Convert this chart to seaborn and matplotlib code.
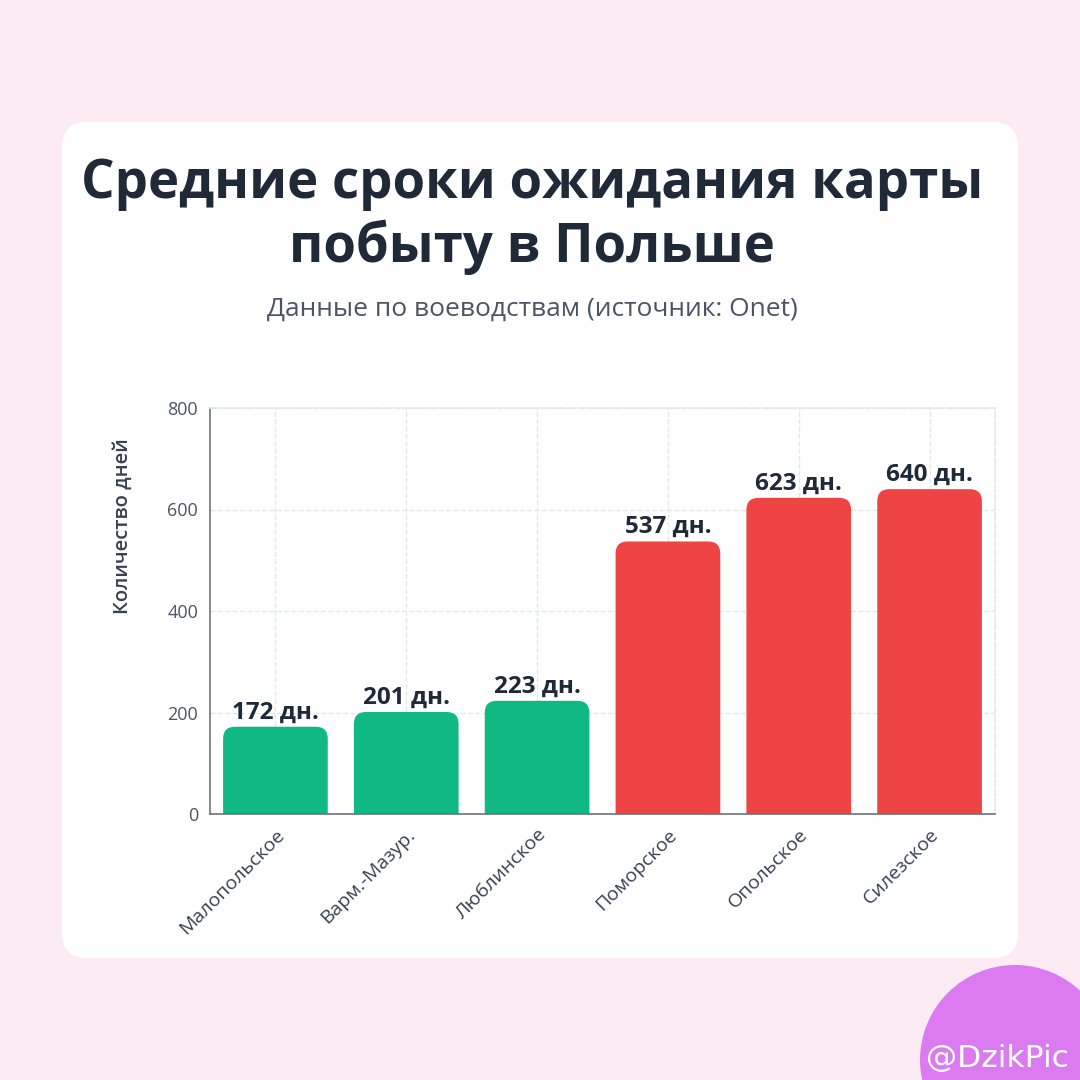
import matplotlib
matplotlib.use('Agg')
import matplotlib.pyplot as plt
import seaborn as sns
import pandas as pd
from matplotlib.patches import FancyBboxPatch, Circle

# Data
regions = ['Малопольское', 'Варм.-Мазур.', 'Люблинское', 'Поморское', 'Опольское', 'Силезское']
days = [172, 201, 223, 537, 623, 640]
bar_colors = ['#10b981', '#10b981', '#10b981', '#ef4444', '#ef4444', '#ef4444']

df = pd.DataFrame({'region': regions, 'days': days})

sns.set_theme(style='white')
plt.rcParams['font.family'] = ['Open Sans', 'DejaVu Sans']

fig = plt.figure(figsize=(10.8, 10.8), dpi=100)
fig.patch.set_facecolor('#fdebf3')

# white card
card = FancyBboxPatch((62 / 1080, 122 / 1080), 956 / 1080, 836 / 1080,
                      boxstyle='round,pad=0,rounding_size=0.024',
                      transform=fig.transFigure, facecolor='white', edgecolor='none', zorder=-2)
fig.patches.append(card)

# watermark circle
circ = Circle((1015 / 1080, 1 - 1060 / 1080), 95 / 1080, transform=fig.transFigure,
              facecolor='#dc7bf1', edgecolor='none', zorder=1)
fig.patches.append(circ)
fig.text(926 / 1080, 1 - 1067 / 1080, '@DzikPic', color='white', fontsize=22.5,
         ha='left', va='baseline', family=['DejaVu Sans'], zorder=2)

# titles
fig.text(532 / 1080, 1 - 198 / 1080, 'Средние сроки ожидания карты', ha='center', va='baseline',
         fontsize=38, fontweight='bold', color='#1f2937')
fig.text(532 / 1080, 1 - 262 / 1080, 'побыту в Польше', ha='center', va='baseline',
         fontsize=38, fontweight='bold', color='#1f2937')
fig.text(532 / 1080, 1 - 316 / 1080, 'Данные по воеводствам (источник: Onet)', ha='center',
         va='baseline', fontsize=19, color='#4b5563')

ax = fig.add_axes([210 / 1080, 1 - 814 / 1080, 785 / 1080, 406 / 1080])
ax.set_facecolor('none')
sns.barplot(data=df, x='region', y='days', hue='region', palette=bar_colors,
            legend=False, width=0.8, saturation=1, ax=ax)

ax.set_ylim(0, 800)
ax.set_xlim(-0.5, len(regions) - 0.5)

# swap bars for rounded-top versions
x_px = (785 / len(regions))
y_px = 406 / 800
r_x = 12 / x_px
aspect = (12 / y_px) / r_x
for p in list(ax.patches):
    x, w, h = p.get_x(), p.get_width(), p.get_height()
    fc = p.get_facecolor()
    p.remove()
    rb = FancyBboxPatch((x, -30), w, h + 30,
                        boxstyle=f'round,pad=0,rounding_size={r_x}',
                        mutation_aspect=aspect, facecolor=fc, edgecolor='none', zorder=2)
    ax.add_patch(rb)

for i, v in enumerate(days):
    ax.annotate(f'{v} дн.', (i, v), xytext=(0, 6), textcoords='offset points',
                ha='center', va='baseline', fontsize=17.5, fontweight='bold', color='#1f2937')

ax.set_yticks([0, 200, 400, 600, 800])
ax.grid(True, color='#e5e7eb', linestyle='--', linewidth=1)
ax.set_axisbelow(True)
for s in ['top', 'right']:
    ax.spines[s].set_visible(True)
    ax.spines[s].set_color('#e5e7eb')
    ax.spines[s].set_linestyle('--')
for s in ['left', 'bottom']:
    ax.spines[s].set_color('#6b7280')
    ax.spines[s].set_linewidth(1.2)

ax.tick_params(axis='both', colors='#6b7280', length=5, width=1, direction='out',
               labelsize=13, labelcolor='#4b5563')
ax.tick_params(axis='x', labelsize=14, labelcolor='#374151')
plt.setp(ax.get_xticklabels(), rotation=45, ha='right', rotation_mode='anchor')

ax.set_xlabel('')
ax.set_ylabel('Количество дней', fontsize=14.5, fontweight='semibold', color='#374151')
ax.yaxis.set_label_coords(-0.098, 0.709)

fig.savefig('out.png', dpi=100, facecolor=fig.get_facecolor())
